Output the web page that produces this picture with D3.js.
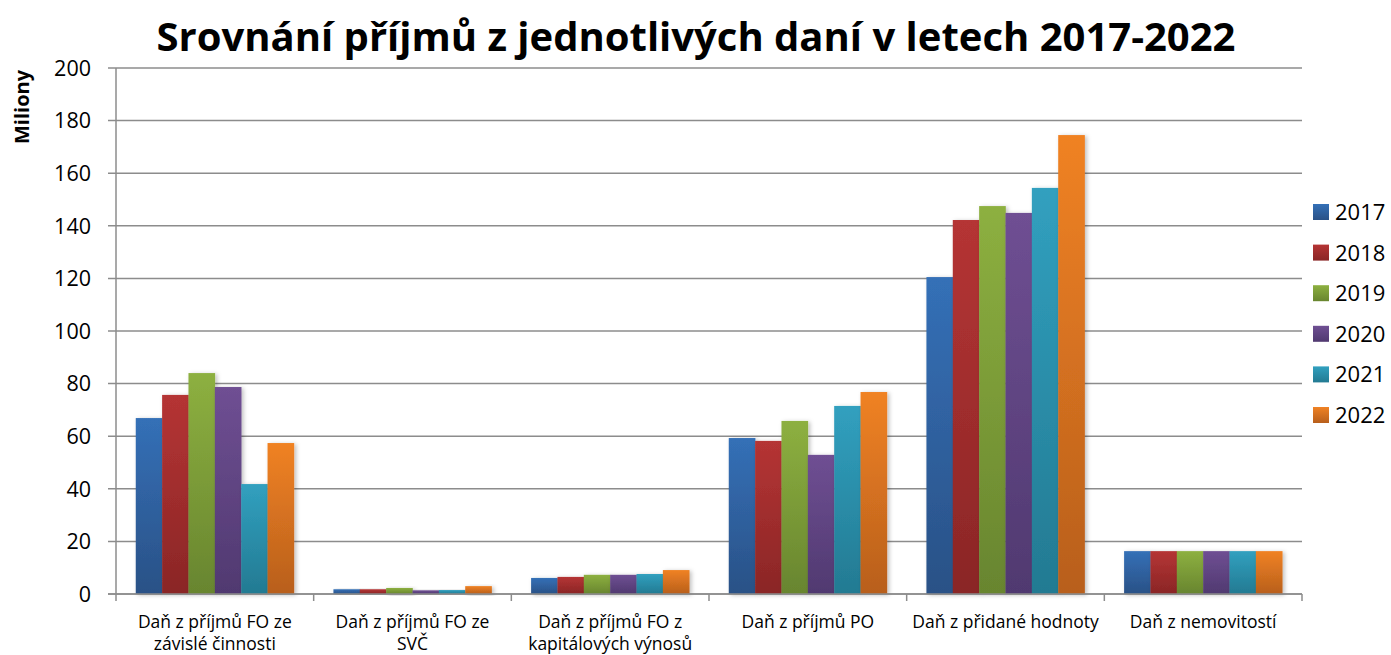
<!DOCTYPE html>
<html>
<head>
<meta charset="utf-8">
<script src="https://cdn.jsdelivr.net/npm/d3@7"></script>
<style>
  body { margin: 0; background: #fff; }
  text { font-family: "Open Sans", "Liberation Sans", sans-serif; fill: #000; }
</style>
</head>
<body>
<div id="chart"></div>
<script>
// categories and series
var categories = [
  ["Daň z příjmů FO ze", "závislé činnosti"],
  ["Daň z příjmů FO ze", "SVČ"],
  ["Daň z příjmů FO z", "kapitálových výnosů"],
  ["Daň z příjmů PO"],
  ["Daň z přidané hodnoty"],
  ["Daň z nemovitostí"]
];
var years = ["2017", "2018", "2019", "2020", "2021", "2022"];
var v2017 = [66.9, 1.8, 6.1, 59.3, 120.5, 16.3];
var v2018 = [75.7, 1.8, 6.5, 58.2, 142.2, 16.3];
var v2019 = [84.0, 2.3, 7.3, 65.8, 147.5, 16.3];
var v2020 = [78.7, 1.4, 7.3, 52.9, 144.9, 16.3];
var v2021 = [41.8, 1.5, 7.6, 71.5, 154.4, 16.3];
var v2022 = [57.4, 3.0, 9.1, 76.8, 174.5, 16.3];
var yTicks = [0, 20, 40, 60, 80, 100, 120, 140, 160, 180, 200];

var series = [v2017, v2018, v2019, v2020, v2021, v2022];
var topColors = ["#3470b7", "#b53434", "#8db040", "#6f4f93", "#31a0bf", "#f08224"];
var botColors = ["#2a5186", "#8a2626", "#68852f", "#503970", "#237a92", "#b85f1c"];

var W = 1391, H = 655;
var margin = {top: 68, left: 116, right: 89, bottom: 61};
var width = W - margin.left - margin.right,
    height = H - margin.top - margin.bottom;

var svg = d3.select("#chart").append("svg")
    .attr("width", W)
    .attr("height", H);

var defs = svg.append("defs");
years.forEach(function(y, i) {
  var g = defs.append("linearGradient")
      .attr("id", "grad" + i)
      .attr("x1", 0).attr("y1", 0).attr("x2", 0).attr("y2", 1);
  g.append("stop").attr("offset", "0%").attr("stop-color", topColors[i]);
  g.append("stop").attr("offset", "100%").attr("stop-color", botColors[i]);
});
var f = defs.append("filter").attr("id", "shadow")
    .attr("x", "-20%").attr("y", "-20%").attr("width", "160%").attr("height", "140%");
f.append("feDropShadow").attr("dx", 2).attr("dy", 1).attr("stdDeviation", 2)
    .attr("flood-color", "#000").attr("flood-opacity", 0.25);

var chart = svg.append("g")
    .attr("transform", "translate(" + margin.left + "," + margin.top + ")");

var x0 = d3.scaleBand().domain(d3.range(categories.length)).range([0, width]).paddingInner(0);
var x1 = d3.scaleBand().domain(years).range([0, x0.bandwidth()])
    .paddingInner(0).paddingOuter(0.75);
var y = d3.scaleLinear().domain([0, 200]).range([height, 0]);

// gridlines
chart.append("g").selectAll("line")
    .data(yTicks)
    .enter().append("line")
    .attr("x1", -8).attr("x2", width)
    .attr("y1", function(d) { return y(d); })
    .attr("y2", function(d) { return y(d); })
    .style("stroke", "#8c8c8c").style("stroke-width", 1.5);

// y axis labels
chart.append("g").selectAll("text")
    .data(yTicks)
    .enter().append("text")
    .attr("x", -25)
    .attr("y", function(d) { return y(d); })
    .attr("dy", "0.36em")
    .attr("text-anchor", "end")
    .style("font-size", "21.5px")
    .text(function(d) { return d; });

// bars
var groups = chart.append("g").selectAll("g")
    .data(categories)
    .enter().append("g")
    .attr("transform", function(d, i) { return "translate(" + x0(i) + ",0)"; });

groups.selectAll("rect")
    .data(function(d, ci) {
      return years.map(function(yr, si) { return {year: yr, si: si, value: series[si][ci]}; });
    })
    .enter().append("rect")
    .attr("x", function(d) { return x1(d.year); })
    .attr("width", x1.bandwidth() + 0.3)
    .attr("y", function(d) { return y(d.value); })
    .attr("height", function(d) { return height - y(d.value); })
    .attr("filter", "url(#shadow)")
    .style("fill", function(d) { return "url(#grad" + d.si + ")"; });

// axes lines
chart.append("line")
    .attr("x1", 0).attr("x2", 0).attr("y1", 0).attr("y2", height)
    .style("stroke", "#8c8c8c").style("stroke-width", 1.5);
chart.append("line")
    .attr("x1", -8).attr("x2", width).attr("y1", height).attr("y2", height)
    .style("stroke", "#8c8c8c").style("stroke-width", 1.5);
chart.append("g").selectAll("line")
    .data(d3.range(categories.length + 1))
    .enter().append("line")
    .attr("x1", function(d) { return d * x0.bandwidth(); })
    .attr("x2", function(d) { return d * x0.bandwidth(); })
    .attr("y1", height).attr("y2", height + 7)
    .style("stroke", "#8c8c8c").style("stroke-width", 1.5);

// x labels
var xl = chart.append("g").selectAll("text")
    .data(categories)
    .enter().append("text")
    .attr("text-anchor", "middle")
    .attr("transform", function(d, i) {
      return "translate(" + (x0(i) + x0.bandwidth() / 2) + "," + (height + 34) + ")";
    })
    .style("font-size", "17.5px");
xl.selectAll("tspan")
    .data(function(d) { return d; })
    .enter().append("tspan")
    .attr("x", 0)
    .attr("dy", function(d, i) { return i === 0 ? 0 : 22; })
    .text(function(d) { return d; });

// y title
svg.append("text")
    .attr("transform", "translate(29,107) rotate(-90)")
    .attr("text-anchor", "middle")
    .style("font-size", "20px")
    .style("font-weight", "bold")
    .text("Miliony");

// title
svg.append("text")
    .attr("x", 696).attr("y", 51)
    .attr("text-anchor", "middle")
    .style("font-size", "40px")
    .style("font-weight", "bold")
    .text("Srovnání příjmů z jednotlivých daní v letech 2017-2022");

// legend
var legend = svg.append("g").selectAll("g")
    .data(years)
    .enter().append("g")
    .attr("transform", function(d, i) { return "translate(1313," + (212 + i * 40.6) + ")"; });
legend.append("rect")
    .attr("x", 0).attr("y", -8).attr("width", 16).attr("height", 16)
    .style("fill", function(d, i) { return "url(#grad" + i + ")"; });
legend.append("text")
    .attr("x", 22).attr("dy", "0.36em")
    .style("font-size", "22px")
    .text(function(d) { return d; });
</script>
</body>
</html>
